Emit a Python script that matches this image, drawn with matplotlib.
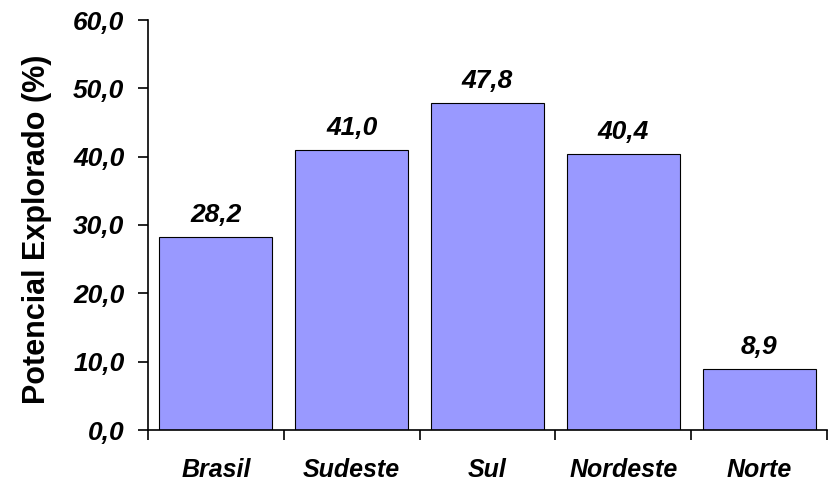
import matplotlib
matplotlib.use('Agg')
import matplotlib.pyplot as plt
import numpy as np

regioes = ['Brasil', 'Sudeste', 'Sul', 'Nordeste', 'Norte']
potencial = [28.2, 41.0, 47.8, 40.4, 8.9]
y_ticks = [0, 10, 20, 30, 40, 50, 60]

plt.rcParams['font.family'] = ['Liberation Sans', 'DejaVu Sans']

fig = plt.figure(figsize=(8.29, 4.84), dpi=100)
ax = fig.add_axes([148/829, 54/484, 679/829, 410/484])

x = np.arange(len(regioes))
ax.bar(x, potencial, width=1/1.2, color='#9999FF', edgecolor='black', linewidth=0.8)

# rótulos de valor acima das barras
for xi, v in zip(x, potencial):
    ax.text(xi, v + 1.5, ('%.1f' % v).replace('.', ','), ha='center', va='bottom',
            fontsize=19, fontweight='bold', fontstyle='italic')

ax.set_xlim(-0.5, len(regioes) - 0.5)
ax.set_ylim(0, 60)
ax.set_yticks(y_ticks)
ax.set_yticklabels([('%.1f' % t).replace('.', ',') for t in y_ticks],
                   fontsize=19, fontweight='bold', fontstyle='italic')
ax.set_xticks(x)
ax.set_xticklabels(regioes, fontsize=18, fontweight='bold', fontstyle='italic')
ax.set_xticks(np.arange(len(regioes) + 1) - 0.5, minor=True)
ax.tick_params(axis='x', which='major', length=0, pad=20)
ax.tick_params(axis='x', which='minor', length=7, width=1.2, direction='out')
ax.tick_params(axis='y', length=7, width=1.2, direction='out', pad=10)

for s in ['top', 'right']:
    ax.spines[s].set_visible(False)
for s in ['left', 'bottom']:
    ax.spines[s].set_linewidth(1.2)

ax.set_ylabel('Potencial Explorado (%)', fontsize=22, fontweight='bold')
ax.yaxis.set_label_coords(-0.141, 0.49)

fig.savefig('out.png', dpi=100)
